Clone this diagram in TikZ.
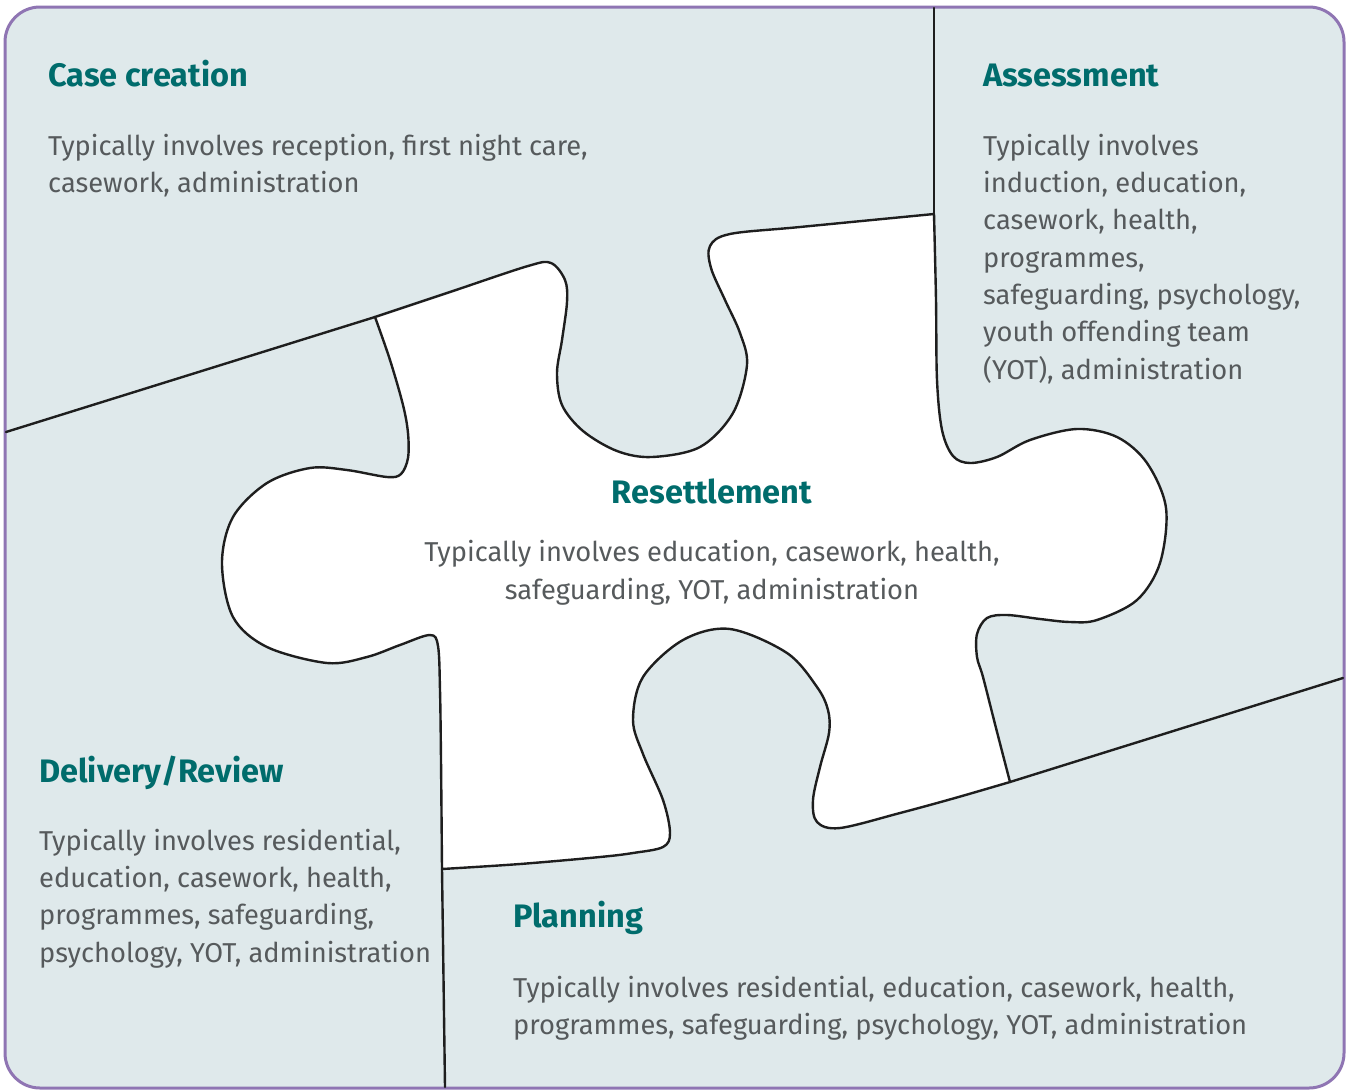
\documentclass[tikz,border=0pt]{standalone}
\usepackage{fontspec}
\setmainfont{Fira Sans}
\definecolor{paper}{RGB}{223,233,235}
\definecolor{framecol}{RGB}{143,117,179}
\definecolor{linecol}{RGB}{30,30,30}
\definecolor{headcol}{RGB}{0,108,108}
\definecolor{bodycol}{RGB}{86,90,92}
\begin{document}
\begin{tikzpicture}[x=1pt,y=-1pt,
  edge/.style={draw=linecol, line width=2.4pt, line join=round, line cap=round},
  head/.style={text=headcol, font=\fontsize{32.5}{38}\selectfont\bfseries, inner sep=0pt},
  body/.style={text=bodycol, font=\fontsize{27.3}{37.3}\selectfont, inner sep=0pt, align=left},
  curve/.style={smooth, tension=0.55}
]
\useasboundingbox (0,0) rectangle (1346,1090);
% outer frame
\draw[draw=framecol, line width=3pt, fill=paper, rounded corners=35pt] (5,7) rectangle (1344,1088);

% corner points where the separating lines meet the central piece
\coordinate (jl) at (375,317);
\coordinate (jt) at (934,214);
\coordinate (jr) at (1010,782);
\coordinate (jb) at (442,869);
\coordinate (el) at (6,432);
\coordinate (et) at (934,8);
\coordinate (er) at (1343,678);
\coordinate (eb) at (445,1087);

% central puzzle piece
\path[edge, fill=white]
  plot[curve] coordinates {(375,317) (450,292) (528,266) (551,263) (565,280) (567,302) (562,340) (557,373) (562,405) (583,431) (617,451) (652,457) (700,447) (733,413) (747,365) (740,333) (725,300) (711,268) (710,246) (730,234) (800,227) (934,214)}
  -- plot[curve] coordinates {(934,214) (936,300) (937,380) (942,430) (953,456) (970,463) (997,457) (1030,440) (1077,429) (1117,437) (1147,463) (1166,508) (1160,563) (1137,600) (1097,620) (1070,622) (1040,619) (1007,615) (987,618) (977,634) (977,657) (983,677) (996,728) (1010,782)}
  -- plot[curve] coordinates {(1010,782) (955,798) (900,813) (840,828) (817,822) (813,800) (820,767) (829,733) (828,710) (817,687) (787,653) (730,629) (683,640) (643,677) (633,720) (643,754) (663,800) (670,833) (663,847) (633,853) (600,857) (520,864) (442,869)}
  -- plot[curve] coordinates {(442,869) (441,760) (440,690) (438,646) (430,635) (400,645) (367,657) (327,663) (267,647) (233,617) (222,563) (233,517) (267,483) (310,468) (347,470) (387,477) (401,474) (408,458) (408,433) (403,405) (390,360) (375,317)}
  -- cycle;

% separating lines running out to the frame
\draw[edge] (el) -- (jl);
\draw[edge] (et) -- (jt);
\draw[edge] (jr) -- (er);
\draw[edge] (jb) -- (eb);

% texts (base anchors of multi-line nodes sit on the last line)
\node[head, anchor=base west] (casehead) at (48,86) {Case creation};
\node[body, anchor=base west] (casebody) at (48,192.5) {Typically involves reception, first night care,\\casework, administration};

\node[head, anchor=base west] (asshead) at (983,86) {Assessment};
\node[body, anchor=base west] (assbody) at (983,379) {Typically involves\\induction, education,\\casework, health,\\programmes,\\safeguarding, psychology,\\youth offending team\\(YOT), administration};

\node[head, anchor=base] (reshead) at (712,503) {Resettlement};
\node[body, align=center, anchor=base] (resbody) at (712,599) {Typically involves education, casework, health,\\safeguarding, YOT, administration};

\node[head, anchor=base west] (delhead) at (39,782) {Delivery/Review};
\node[body, anchor=base west] (delbody) at (39,962) {Typically involves residential,\\education, casework, health,\\programmes, safeguarding,\\psychology, YOT, administration};

\node[head, anchor=base west] (planhead) at (513,927) {Planning};
\node[body, anchor=base west] (planbody) at (513,1034.5) {Typically involves residential, education, casework, health,\\programmes, safeguarding, psychology, YOT, administration};
\end{tikzpicture}
\end{document}
